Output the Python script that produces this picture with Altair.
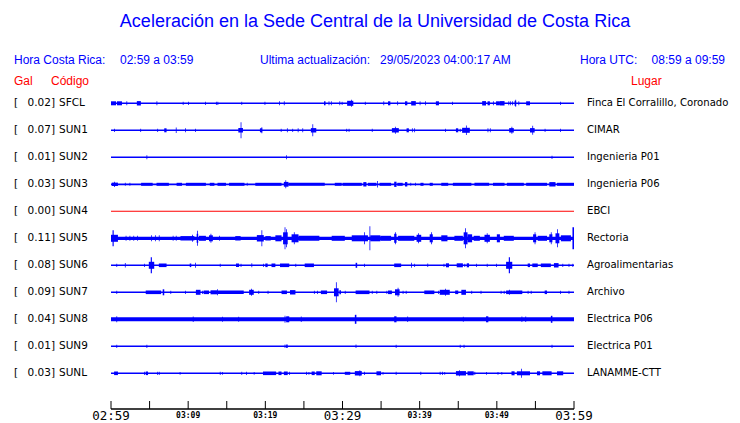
import altair as alt
import pandas as pd

# ---------------- data ----------------
codes = ["SFCL", "SUN1", "SUN2", "SUN3", "SUN4", "SUN5", "SUN6", "SUN7", "SUN8", "SUN9", "SUNL"]
gal = ["0.02", "0.07", "0.01", "0.03", "0.00", "0.11", "0.08", "0.09", "0.04", "0.01", "0.03"]
places = ["Finca El Corralillo, Coronado", "CIMAR", "Ingenieria P01", "Ingenieria P06", "EBCI",
          "Rectoria", "Agroalimentarias", "Archivo", "Electrica P06", "Electrica P01", "LANAMME-CTT"]
# baseline noise half-amplitude per station
noise = [0.7, 0.7, 0.7, 0.9, 0.5, 1.6, 0.7, 0.7, 2.0, 0.7, 0.7]

tick_minutes = [0, 5, 10, 15, 20, 25, 30, 35, 40, 45, 50, 55, 60]
label_minutes = [0, 10, 20, 30, 40, 50, 60]
tick_labels = ["02:59", "03:09", "03:19", "03:29", "03:39", "03:49", "03:59"]
major_labels = ["02:59", "03:29", "03:59"]

# bursts: (start minute, end minute, half amplitude)
sfcl = [(0.0,0.65,2),(0.77,1.42,2),(2.0,2.1,2),(3.35,3.87,2.2),(5.9,6.0,2),(9.3,9.4,1.6),(10.0,10.1,1.6),
        (12.2,12.3,1.6),(13.6,13.7,1.6),(13.8,13.9,1.6),(16.9,17.0,1.6),(19.9,20.0,1.6),(21.8,21.9,2),
        (22.4,22.5,2),(27.6,27.8,2),(28.2,28.3,2),(28.5,28.6,2),(29.6,29.7,2),(29.9,30.0,1.6),(30.6,31.4,2.5),
        (31.1,31.2,3.5),(32.9,33.0,1.6),(35.3,35.4,2),(35.9,36.2,2),(37.1,37.2,2),(38.1,38.4,2),(38.9,39.5,2.2),
        (40.0,40.1,2),(40.7,40.8,2),(42.1,42.5,2),(44.2,44.3,1.6),(48.1,48.6,2.2),(48.8,49.1,2),(49.5,49.6,2),
        (49.9,50.4,2),(50.4,51.0,2.2),(51.5,51.6,2),(51.7,51.8,2),(52.0,52.1,2),(52.3,52.5,2.5),(52.4,52.5,3.5),
        (52.8,52.9,2),(53.8,54.3,2),(58.2,58.3,1.6)]
sun1 = [(0.4,0.5,1.6),(3.8,3.9,1.6),(6.0,6.1,1.6),(6.9,7.2,2),(8.4,8.5,2.8),(9.6,9.7,2),(10.9,11.0,1.6),
        (16.5,17.1,2.2),(16.8,16.9,8),(19.3,19.6,2),(19.5,19.6,3),(22.0,22.1,1.6),(22.8,22.9,2),(23.5,23.6,1.6),
        (24.2,24.3,2),(24.8,24.9,2),(25.9,26.6,2.2),(26.1,26.2,6),(30.5,30.6,1.6),(30.8,30.9,1.6),(33.8,33.9,1.6),
        (36.4,37.3,2.2),(36.8,36.9,3.5),(38.3,38.6,2),(39.0,39.1,2),(39.3,39.4,2),(43.3,43.4,1.6),(44.7,45.0,2),
        (45.2,45.3,1.6),(45.5,46.5,2.5),(46.0,46.1,4.7),(48.8,48.9,2),(49.1,49.2,2),(51.6,52.2,2.2),(51.9,52.0,3.5),
        (54.3,54.9,2.2),(54.6,54.7,4.5),(56.2,56.3,1.6),(58.2,58.3,1.6)]
sun2 = [(4.6,4.7,2),(22.7,22.8,2),(57.1,57.2,1.6)]
sun3 = [(0.1,0.9,1.7),(0.4,0.5,2.6),(1.8,1.9,1.5),(2.4,2.5,1.5),(3.9,5.4,1.5),(5.9,7.5,1.5),(8.5,9.2,1.5),
        (9.7,12.3,1.5),(12.8,13.4,1.5),(13.8,14.9,1.5),(15.3,17.3,1.5),(17.6,17.7,1.5),(18.7,22.1,1.5),
        (22.4,23.0,2.4),(22.6,22.7,4),(23.0,27.7,1.5),(29.0,29.9,1.5),(30.0,32.5,1.5),(32.7,33.1,2.2),(33.3,34.4,1.5),
        (34.5,34.6,3.2),(34.8,36.3,1.5),(36.7,37.0,2.6),(37.1,37.8,1.5),(38.1,38.4,2.2),(38.8,38.9,1.5),
        (39.4,39.5,1.5),(40.1,40.5,1.5),(41.3,41.7,1.5),(42.8,43.7,1.5),(44.3,46.7,1.5),(47.1,49.0,1.5),
        (49.5,51.0,1.5),(51.3,53.5,1.5),(53.8,56.5,1.5),(56.8,57.6,2.2),(57.8,60.0,1.5)]
sun4 = []
sun5 = [(0.0,0.9,3.5),(0.2,0.35,8),(1.9,2.0,2.5),(2.4,2.5,2.5),(2.9,3.0,2.5),(3.4,3.5,2.5),(5.2,5.3,3),
        (5.7,5.8,3),(6.2,6.3,3),(8.0,8.1,2.5),(8.4,8.5,2.5),(9.0,10.8,2.2),(10.5,10.6,3.5),(11.1,11.3,4.5),
        (11.15,11.25,7.5),(11.4,12.3,2.5),(12.7,13.2,3),(12.9,13.0,4.5),(14.0,14.1,2.5),(16.1,16.8,2.2),
        (18.9,19.8,3.2),(19.5,19.6,8),(20.0,20.7,2.2),(21.3,22.1,3),(22.3,22.9,6),(22.5,22.6,11),(22.7,22.8,9),
        (23.4,24.3,4),(23.7,23.8,6),(24.3,27.0,2.5),(28.6,30.3,2.5),(31.2,33.3,3),(32.8,32.9,6),(33.5,33.6,12),
        (33.6,34.9,3),(34.9,36.3,2.5),(36.7,37.0,4.5),(36.8,36.9,6),(37.2,39.3,2.5),(39.6,40.2,3.5),
        (39.8,39.9,5),(41.3,41.7,4),(41.5,41.6,6),(42.8,43.6,3),(44.5,45.6,2.5),(45.7,46.2,6),(45.9,46.0,10),
        (46.2,46.8,4),(47.0,47.8,2.5),(48.4,49.1,3.5),(48.7,48.8,5),(50.0,50.4,4),(50.9,52.2,2.5),
        (54.7,55.1,4),(54.9,55.0,6),(55.3,56.5,2.5),(56.8,57.2,4),(57.0,57.1,6),(57.6,58.1,5),(57.8,57.9,9),
        (58.3,59.6,3),(59.8,60.0,11)]
sun6 = [(0.7,0.8,1.6),(1.8,1.9,2.2),(4.3,4.4,1.6),(4.9,5.6,3.5),(5.15,5.3,8),(6.2,7.2,1.8),(10.2,10.4,1.8),
        (10.9,11.0,2.5),(14.1,14.2,1.6),(16.2,16.6,1.8),(16.8,16.9,1.6),(18.2,18.3,2),(19.7,19.8,1.6),
        (20.0,20.3,1.8),(20.8,21.3,1.8),(21.9,23.1,1.8),(23.9,24.0,1.6),(25.1,26.3,1.8),(31.7,31.9,2.5),
        (32.8,32.9,1.6),(36.7,37.6,1.8),(38.9,39.0,2.5),(39.3,39.4,1.6),(41.0,41.1,1.8),(43.1,43.2,1.6),
        (43.4,43.8,2),(44.8,45.6,2),(45.8,45.9,1.6),(46.1,46.4,2),(47.3,47.4,1.6),(48.7,48.8,1.6),(49.9,50.0,1.6),
        (51.2,52.0,3.5),(51.55,51.7,8),(54.0,54.3,1.8),(54.6,55.3,1.8),(55.7,57.0,1.8),(57.4,58.0,2.2),
        (58.5,58.6,1.6),(59.3,59.4,1.6),(59.8,59.9,1.6)]
sun7 = [(0.7,0.8,1.6),(4.5,6.5,1.8),(6.7,6.9,3),(7.7,7.8,1.6),(9.6,9.7,1.6),(11.0,11.6,2.5),(11.8,11.9,1.6),
        (12.0,12.7,1.8),(12.9,13.8,2),(13.75,13.85,3),(13.8,17.2,1.8),(17.9,18.5,2.5),(18.15,18.25,3.5),
        (19.1,19.2,1.6),(20.3,20.4,1.6),(22.1,22.8,1.8),(23.2,23.9,2.2),(26.3,26.4,1.6),(26.7,26.8,1.6),
        (27.2,28.0,1.8),(28.9,29.5,4),(29.15,29.25,10),(29.6,29.8,2),(30.3,30.4,1.6),(31.7,33.5,1.8),
        (33.8,33.9,1.6),(34.4,34.5,1.6),(35.7,35.8,1.6),(35.9,36.4,1.8),(36.8,37.4,3),(37.15,37.25,4.5),
        (37.8,37.9,1.6),(38.2,38.3,1.6),(40.6,41.9,1.8),(42.4,42.5,1.6),(42.6,43.9,2.5),(43.3,43.4,3.5),
        (44.6,45.0,1.8),(45.4,46.0,2.5),(46.7,46.8,1.6),(47.9,48.0,1.6),(50.5,50.6,1.6),(50.9,51.0,1.6),
        (51.2,53.3,1.8),(51.6,51.7,2.5),(54.0,54.1,1.6),(54.4,54.5,1.6),(56.2,56.5,1.8),(58.2,58.3,1.6),
        (59.3,59.4,1.6)]
sun8 = [(0.7,0.8,3),(10.6,10.7,2.8),(14.4,14.5,2.5),(16.5,16.6,2.5),(22.5,22.6,3.5),(22.7,23.1,3),
        (24.6,24.7,2.8),(31.6,31.8,4.5),(36.7,37.0,3),(38.4,38.5,2.8),(45.6,45.7,2.5),(48.6,48.9,3),
        (53.2,53.3,2.8),(53.7,53.8,2.8),(57.0,57.2,3.5)]
sun9 = [(0.7,0.8,1.6),(4.6,4.7,1.6),(22.5,22.6,1.8),(22.7,22.9,1.8),(31.7,31.8,1.8),(36.9,37.0,1.6),
        (45.2,45.3,1.6),(45.7,45.8,1.6),(57.1,57.2,1.6)]
sunl = [(0.4,0.9,1.8),(4.3,4.4,1.6),(4.5,4.8,1.8),(6.0,6.1,1.6),(6.2,6.3,1.6),(8.9,9.0,1.4),(14.1,14.2,1.6),
        (14.4,14.5,1.4),(16.9,17.0,1.6),(17.5,17.6,1.6),(18.5,18.6,1.4),(19.7,21.4,1.8),(21.7,22.1,1.8),
        (22.4,22.9,1.8),(23.1,23.2,1.6),(25.3,25.4,1.6),(25.6,25.7,1.4),(26.0,26.4,1.8),(26.6,27.3,2),
        (28.8,28.9,1.4),(30.3,31.0,1.5),(31.6,32.5,2.2),(32.2,32.3,3),(32.8,32.9,1.6),(34.4,35.0,2),
        (35.2,35.3,1.4),(36.9,37.0,1.6),(40.1,40.2,1.6),(42.6,42.7,1.6),(42.9,43.0,1.6),(43.2,43.3,1.4),
        (44.7,46.0,2.2),(45.1,45.2,3),(46.2,47.0,2),(47.1,47.2,1.6),(48.6,48.7,1.4),(50.1,50.2,1.4),
        (50.6,50.7,1.4),(51.9,52.3,2),(52.6,54.3,2),(53.15,53.25,4.5),(55.2,55.6,2),(55.9,57.1,2),(57.8,58.6,2)]

bursts = [sfcl, sun1, sun2, sun3, sun4, sun5, sun6, sun7, sun8, sun9, sunl]

# ---------------- build tables ----------------
ROW = 27.0
rows = []
for i, c in enumerate(codes):
    rows.append({"code": c, "gal": gal[i] + "]", "place": places[i], "yc": i * ROW,
                 "x0": 0, "x1": 60, "lo": i * ROW - noise[i], "hi": i * ROW + noise[i]})
rows_df = pd.DataFrame(rows)

seg = []
for i, lst in enumerate(bursts):
    for (a, b, h) in lst:
        seg.append({"code": codes[i], "x0": a, "x1": b, "lo": i * ROW - h, "hi": i * ROW + h})
seg_df = pd.DataFrame(seg)

ticks_df = pd.DataFrame({"m": tick_minutes})
labels_df = pd.DataFrame({"m": label_minutes, "lab": tick_labels})
labels_df["major"] = labels_df["lab"].isin(major_labels)

W, H = 463, 333
xs = alt.Scale(domain=[0, 60], nice=False, zero=False)
ys = alt.Scale(domain=[-27.3, 305.7], reverse=True, nice=False, zero=False)
colors = alt.Scale(domain=codes, range=["#0000ff"] * 4 + ["#ff0000"] + ["#0000ff"] * 6)

base_lines = alt.Chart(rows_df).mark_rect().encode(
    x=alt.X("x0:Q", scale=xs, axis=None), x2="x1:Q",
    y=alt.Y("lo:Q", scale=ys, axis=None), y2="hi:Q",
    color=alt.Color("code:N", scale=colors, legend=None))

burst_marks = alt.Chart(seg_df).mark_rect().encode(
    x=alt.X("x0:Q", scale=xs, axis=None), x2="x1:Q",
    y=alt.Y("lo:Q", scale=ys, axis=None), y2="hi:Q",
    color=alt.Color("code:N", scale=colors, legend=None))

TXT = dict(font="DejaVu Sans", fontSize=10.5, color="black", baseline="middle")
bracket = alt.Chart(rows_df).mark_text(align="left", **TXT).encode(
    x=alt.value(14 - 111), y=alt.Y("yc:Q", scale=ys), text=alt.value("["))
gal_txt = alt.Chart(rows_df).mark_text(align="right", **TXT).encode(
    x=alt.value(55 - 111), y=alt.Y("yc:Q", scale=ys), text="gal:N")
code_txt = alt.Chart(rows_df).mark_text(align="left", **TXT).encode(
    x=alt.value(59 - 111), y=alt.Y("yc:Q", scale=ys), text="code:N")
place_txt = alt.Chart(rows_df).mark_text(align="left", font="DejaVu Sans", fontSize=10.1,
                                          color="black", baseline="middle").encode(
    x=alt.value(587 - 111), y=alt.Y("yc:Q", scale=ys), text="place:N")

axis_line = alt.Chart(pd.DataFrame({"a": [0], "b": [60]})).mark_rule(color="black", strokeWidth=1.5).encode(
    x=alt.X("a:Q", scale=xs), x2="b:Q", y=alt.value(H))
axis_ticks = alt.Chart(ticks_df).mark_rule(color="black", strokeWidth=1).encode(
    x=alt.X("m:Q", scale=xs), y=alt.value(H - 8), y2=alt.value(H))
big_lab = alt.Chart(labels_df).transform_filter("datum.major").mark_text(
    font="DejaVu Sans Mono", fontSize=12.5, baseline="alphabetic", color="black").encode(
    x=alt.X("m:Q", scale=xs), y=alt.value(H + 11), text="lab:N")
small_lab = alt.Chart(labels_df).transform_filter("!datum.major").mark_text(
    font="DejaVu Sans Mono", fontSize=8, fontWeight="bold", baseline="alphabetic", color="black").encode(
    x=alt.X("m:Q", scale=xs), y=alt.value(H + 8.5), text="lab:N")


def label(txt, x, y, align="left", size=12, color="#0000ff", font="Liberation Sans"):
    return alt.Chart(pd.DataFrame({"t": [txt]})).mark_text(
        align=align, baseline="middle", font=font, fontSize=size, color=color).encode(
        x=alt.value(x - 111), y=alt.value(y - 76), text="t:N")


headers = [
    label("Aceleración en la Sede Central de la Universidad de Costa Rica", 375, 22, align="center", size=18),
    label("Hora Costa Rica:", 14, 60),
    label("02:59 a 03:59", 120, 60),
    label("Ultima actualización:", 260, 60),
    label("29/05/2023 04:00:17 AM", 380, 60),
    label("Hora UTC:", 580, 60),
    label("08:59 a 09:59", 725, 60, align="right"),
    label("Gal", 14, 81, color="#ff0000"),
    label("Código", 51, 81, color="#ff0000"),
    label("Lugar", 631, 81, color="#ff0000"),
]

chart = alt.layer(
    base_lines, burst_marks, bracket, gal_txt, code_txt, place_txt,
    axis_line, axis_ticks, big_lab, small_lab, *headers
).properties(
    width=W, height=H,
    padding={"left": 103, "top": 68, "right": 158, "bottom": 14},
    autosize=alt.AutoSizeParams(type="none"),
).configure_view(stroke=None)

chart.save("out.html", embed_options={"renderer": "svg", "actions": False})
